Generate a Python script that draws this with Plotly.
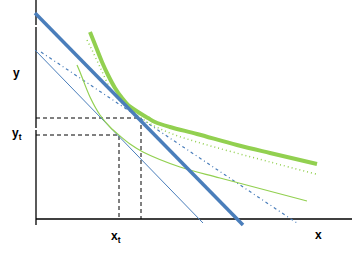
import plotly.graph_objects as go

# budget lines (x, y) in chart units
budget_thick_x = [-1, 207]
budget_thick_y = [206, -6]
budget_thin_x = [-1, 167]
budget_thin_y = [169, -4]
budget_dashdot_x = [5, 261]
budget_dashdot_y = [167, -4]

# indifference curves
ic_thick_x = [54, 60, 66, 72, 79, 86, 92, 102, 112, 119, 134, 161, 201, 234, 281]
ic_thick_y = [187, 172, 157, 144, 131, 121, 114, 107, 101, 97, 92, 85, 74, 66, 55]
ic_dot_x = [51, 56, 64, 74, 84, 94, 111, 134, 161, 234, 280]
ic_dot_y = [179, 169, 152, 131, 118, 110, 97, 86, 77, 57, 45]
ic_thin_x = [41, 44, 54, 64, 74, 84, 94, 107, 144, 184, 271]
ic_thin_y = [154, 147, 122, 104, 92, 83, 75, 67, 52, 41, 18]

# optimum points
opt_x = [105, 83]
opt_y = [101, 84]

BLUE = "#4a7ebb"
GREEN = "#92d050"

fig = go.Figure()

def line(x, y, color, width, dash="solid", shape="linear"):
    fig.add_trace(go.Scatter(x=x, y=y, mode="lines",
                             line=dict(color=color, width=width, dash=dash, shape=shape,
                                       smoothing=1.0 if shape == "spline" else None),
                             showlegend=False, hoverinfo="skip"))

# axes (y axis drawn in segments as in the original)
for y0, y1 in [(219, 194), (192, 91), (89, -6)]:
    line([0, 0], [y0, y1], "black", 1.3)
line([0, 316], [0, 0], "black", 1.3)

# dashed guides
for ox, oy in zip(opt_x, opt_y):
    line([0, ox, ox], [oy, oy, 0], "black", 1, dash="4px,3px")

line(budget_thin_x, budget_thin_y, BLUE, 1)
line(budget_dashdot_x, budget_dashdot_y, BLUE, 1.2, dash="3px,3px,1px,3px")
line(ic_thin_x, ic_thin_y, GREEN, 1.2, shape="spline")
line(ic_dot_x, ic_dot_y, GREEN, 1.5, dash="1px,3px", shape="spline")
line(ic_thick_x, ic_thick_y, GREEN, 4, shape="spline")
line(budget_thick_x, budget_thick_y, BLUE, 3.5)

font = dict(family="Liberation Sans, Arial", size=12, color="black")
labels = [(-20, 146, "<b>y</b>"), (-19, 85, "<b>y<sub>t</sub></b>"),
          (80, -18, "<b>x<sub>t</sub></b>"), (282, -16, "<b>x</b>")]
for lx, ly, t in labels:
    fig.add_annotation(x=lx, y=ly, text=t, showarrow=False, font=font,
                       xanchor="center", yanchor="middle")

fig.update_layout(
    width=356, height=253,
    margin=dict(l=0, r=0, t=0, b=0),
    paper_bgcolor="white", plot_bgcolor="white",
    xaxis=dict(range=[-36, 320], visible=False, fixedrange=True),
    yaxis=dict(range=[-34, 219], visible=False, fixedrange=True),
)

fig.write_html("out.html")
